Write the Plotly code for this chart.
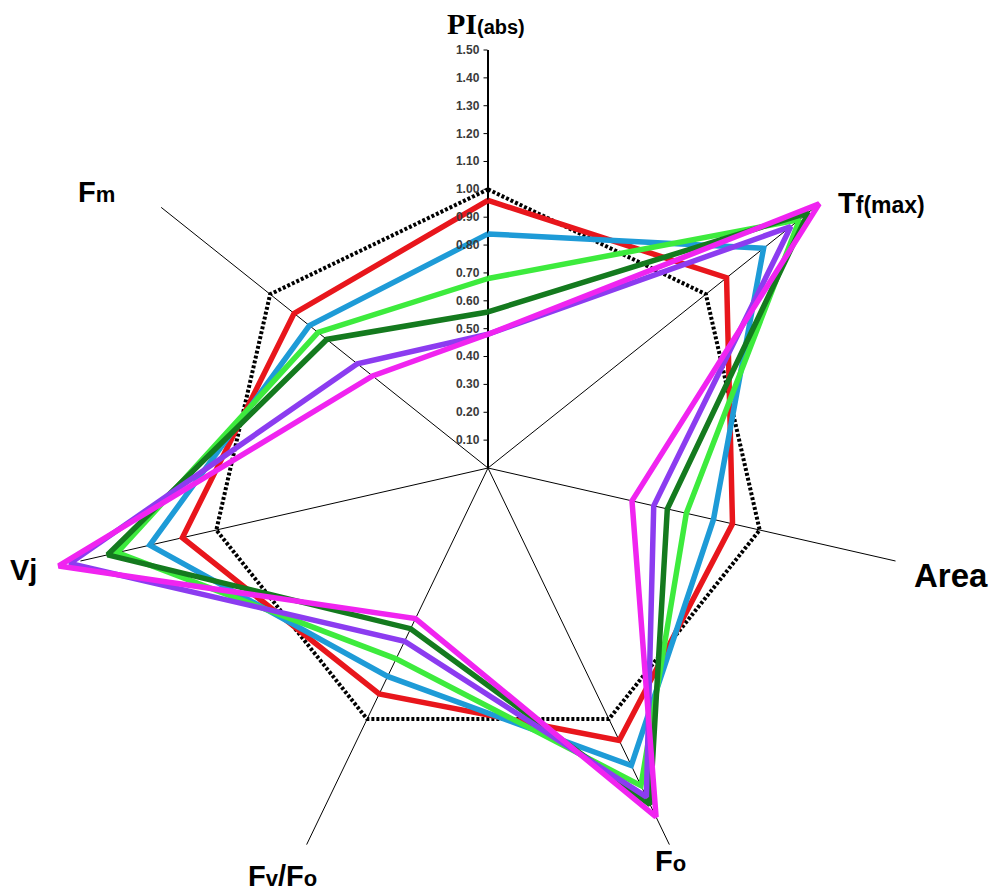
import plotly.graph_objects as go

categories = ["PI(abs)", "Tf(max)", "Area", "Fo", "Fv/Fo", "Vj", "Fm"]

control = [1.00, 1.00, 1.00, 1.00, 1.00, 1.00, 1.00]
red_series = [0.96, 1.095, 0.90, 1.085, 0.90, 1.125, 0.89]
blue_series = [0.84, 1.265, 0.83, 1.185, 0.83, 1.245, 0.82]
lightgreen_series = [0.68, 1.43, 0.73, 1.265, 0.76, 1.365, 0.78]
darkgreen_series = [0.56, 1.47, 0.66, 1.34, 0.64, 1.40, 0.74]
purple_series = [0.48, 1.39, 0.61, 1.31, 0.69, 1.54, 0.60]
magenta_series = [0.48, 1.52, 0.53, 1.39, 0.60, 1.58, 0.53]

axis_max = 1.5
tick_vals = [0.1, 0.2, 0.3, 0.4, 0.5, 0.6, 0.7, 0.8, 0.9, 1.0, 1.1, 1.2, 1.3, 1.4, 1.5]
tick_text = ["%.2f" % v for v in tick_vals]

series = [
    ("Control", control, "#000000", 4, "3px,2px"),
    ("Series 1", red_series, "#E8161C", 5.5, "solid"),
    ("Series 2", blue_series, "#1E9BD7", 5.5, "solid"),
    ("Series 3", lightgreen_series, "#3DEB3D", 5.5, "solid"),
    ("Series 4", darkgreen_series, "#147A1E", 5.5, "solid"),
    ("Series 5", purple_series, "#8C3CF0", 5.5, "solid"),
    ("Series 6", magenta_series, "#F024F0", 5.5, "solid"),
]

fig = go.Figure()

# spokes (axis lines) from centre to the axis maximum
for i, cat in enumerate(categories):
    fig.add_trace(go.Scatterpolar(
        r=[0, axis_max], theta=[cat, cat], mode="lines",
        line=dict(color="black", width=2 if i == 0 else 1),
        showlegend=False, hoverinfo="skip",
    ))

for name, vals, color, w, dash in series:
    fig.add_trace(go.Scatterpolar(
        r=vals + vals[:1],
        theta=categories + categories[:1],
        mode="lines",
        name=name,
        line=dict(color=color, width=w, dash=dash),
        showlegend=False,
        hoverinfo="skip",
    ))

# the page body adds an 8px offset; work in reference-image coordinates
OFF = 8
R15 = 418                      # pixels for 1.5
rmax_val = 1.60                # room for the longest spikes
Rmax = R15 * rmax_val / axis_max
cx_ref, cy_ref = 488, 468
W = 998 - OFF
H = int(round(cy_ref - OFF + Rmax))   # figure tall enough for the full polar circle
cx, cy = cx_ref - OFF, cy_ref - OFF

fig.update_layout(
    width=W, height=H,
    margin=dict(l=0, r=0, t=0, b=0, autoexpand=False),
    paper_bgcolor="white",
    plot_bgcolor="white",
    showlegend=False,
    polar=dict(
        domain=dict(x=[(cx - Rmax) / W, (cx + Rmax) / W],
                    y=[max(0, (H - cy - Rmax) / H), min(1, (H - cy + Rmax) / H)]),
        bgcolor="rgba(0,0,0,0)",
        radialaxis=dict(
            range=[0, rmax_val],
            angle=90,
            side="counterclockwise",
            tickvals=tick_vals,
            ticktext=tick_text,
            tickangle=90,
            tickfont=dict(family="Arial, Liberation Sans", size=12, color="#3a3a3a", weight="bold"),
            showgrid=False,
            showline=False,
            ticks="outside",
            ticklen=4,
            tickcolor="black",
            tickwidth=1,
        ),
        angularaxis=dict(
            type="category",
            categoryarray=categories,
            rotation=90,
            direction="clockwise",
            showgrid=False,
            showline=False,
            showticklabels=False,
            ticks="",
        ),
    ),
)

def px(x):
    return (x - OFF) / W

def py(y):
    return 1 - (y - OFF) / H

small = "font-size:22px"
lab_font = dict(family="Arial, Liberation Sans", size=29, color="black")

annots = [
    ("<b><span style='font-family:Liberation Serif;font-size:30px'>PI</span><span style='font-size:20px'>(abs)</span></b>", 486, 24, "center"),
    ("<b>T<span style='font-size:23px'>f(max)</span></b>", 836, 203, "left"),
    ("<b><span style='font-size:33px'>Area</span></b>", 912, 575, "left"),
    ("<b>F<span style='%s'>o</span></b>" % small, 653, 861, "left"),
    ("<b>F<span style='%s'>v</span>/F<span style='%s'>o</span></b>" % (small, small), 246, 876, "left"),
    ("<b>Vj</b>", 8, 570, "left"),
    ("<b>F<span style='%s'>m</span></b>" % small, 76, 192, "left"),
]
for text, x, y, anchor in annots:
    fig.add_annotation(
        text=text, x=px(x), y=py(y), xref="paper", yref="paper",
        xanchor=anchor, yanchor="middle", showarrow=False,
        font=lab_font,
    )

fig.write_html("out.html")
